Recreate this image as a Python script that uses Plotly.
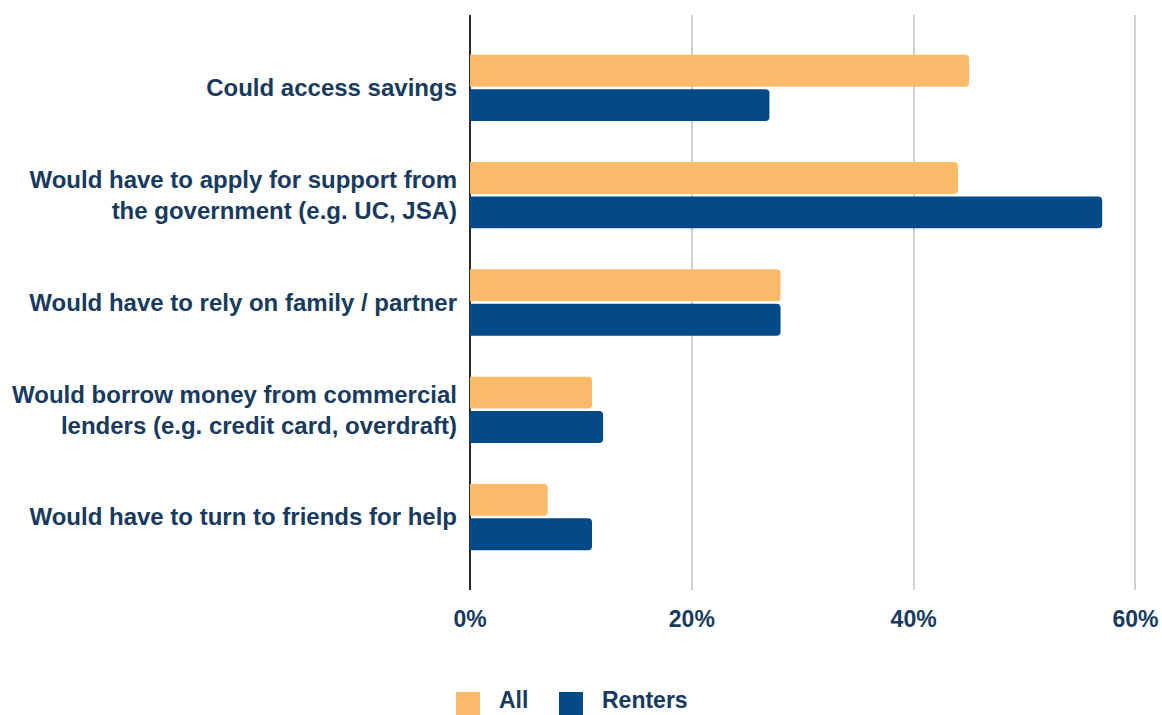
import plotly.graph_objects as go

# Survey responses: what people would do if they lost their income
categories = [
    "Could access savings",
    "Would have to apply for support from<br>the government (e.g. UC, JSA)",
    "Would have to rely on family / partner",
    "Would borrow money from commercial<br>lenders (e.g. credit card, overdraft)",
    "Would have to turn to friends for help",
]
all_values = [45, 44, 28, 11, 7]
renters_values = [27, 57, 28, 12, 11]
series_names = ["All", "Renters"]
series_colors = ["#FBB96A", "#034A87"]
x_tick_values = [0, 20, 40, 60]
x_tick_labels = ["0%", "20%", "40%", "60%"]

TEXT = "#173A5E"
FONT = "Liberation Sans, Arial, sans-serif"

fig = go.Figure()
for name, values, color in zip(series_names, [all_values, renters_values], series_colors):
    fig.add_trace(go.Bar(
        y=categories,
        x=values,
        name=name,
        orientation="h",
        marker=dict(color=color, line=dict(width=0), cornerradius=4),
        showlegend=False,
        hoverinfo="x+y+name",
    ))

# Plot-area geometry (pixels) used to place the hand-drawn legend
W, H = 1162, 715
L, R, T, B = 470, 21, 15, 125
pw, ph = W - L - R, H - T - B


def px_x(X):
    return (X - L) / pw


def px_y(Y):
    return (H - B - Y) / ph


# Legend: large square swatches with bold labels below the chart
swatch_left = [456, 559]
label_left = [497, 600]
shapes = []
annotations = []
for name, color, sx, lx in zip(series_names, series_colors, swatch_left, label_left):
    shapes.append(dict(
        type="rect", xref="paper", yref="paper",
        x0=px_x(sx), x1=px_x(sx + 24), y0=px_y(715), y1=px_y(692),
        fillcolor=color, line=dict(width=0), layer="above",
    ))
    annotations.append(dict(
        text=f"<b>{name}</b>", xref="paper", yref="paper",
        x=px_x(lx), y=px_y(700), xanchor="left", yanchor="middle",
        showarrow=False, font=dict(family=FONT, size=23, color=TEXT),
    ))

fig.update_layout(
    width=W, height=H,
    margin=dict(l=L, r=R, t=T, b=B, pad=0, autoexpand=False),
    paper_bgcolor="white", plot_bgcolor="white",
    barmode="group", bargap=0.36, bargroupgap=0.07,
    font=dict(family=FONT, color=TEXT),
    shapes=shapes, annotations=annotations,
    showlegend=False,
)
fig.update_xaxes(
    range=[0, 60.5],
    tickvals=x_tick_values,
    ticktext=[f"<b>{t}</b>" for t in x_tick_labels],
    tickfont=dict(family=FONT, size=23, color=TEXT),
    showgrid=True, gridcolor="#CFCFCF", gridwidth=2,
    zeroline=True, zerolinecolor="#2B2B2B", zerolinewidth=2,
    showline=False, ticks="", ticklabelstandoff=13,
    automargin=False, fixedrange=True,
)
fig.update_yaxes(
    categoryorder="array", categoryarray=categories,
    range=[4.68, -0.68],
    tickvals=categories,
    ticktext=[f"<b>{c}</b>" for c in categories],
    tickfont=dict(family=FONT, size=24, color=TEXT),
    showgrid=False, zeroline=False, showline=False,
    ticks="", ticklabelstandoff=12,
    automargin=False, fixedrange=True,
)

fig.write_html("out.html")
